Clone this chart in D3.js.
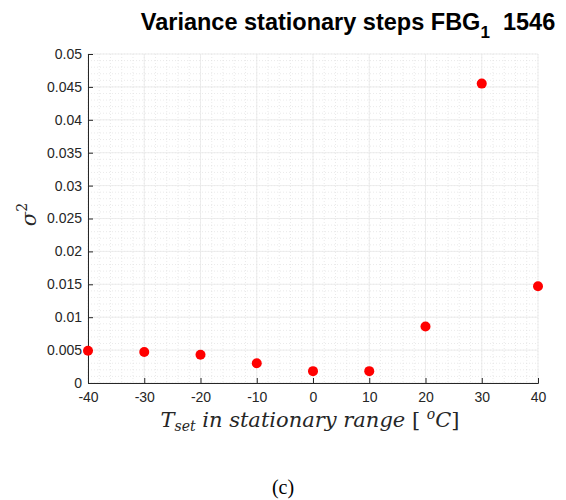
<!DOCTYPE html>
<html>
<head>
<meta charset="utf-8">
<script src="https://cdn.jsdelivr.net/npm/d3@7"></script>
<style>
  body { margin: 0; background: #fff; }
  svg { display: block; }
</style>
</head>
<body>
<div id="chart"></div>
<script>
const temps     = [-40, -30, -20, -10, 0, 10, 20, 30, 40]
const variances = [0.0049, 0.0047, 0.0043, 0.0030, 0.0018, 0.0018, 0.0086, 0.0455, 0.0147]
const xTicks    = [-40, -30, -20, -10, 0, 10, 20, 30, 40]
const yTicks    = [0, 0.005, 0.01, 0.015, 0.02, 0.025, 0.03, 0.035, 0.04, 0.045, 0.05]

const width = 566, height = 500
const MARGIN = { top: 54, right: 28, bottom: 117, left: 88 }
const W = width - MARGIN.left - MARGIN.right
const H = height - MARGIN.top - MARGIN.bottom

const svg = d3.select('#chart').append('svg').attr('width', width).attr('height', height)
const g = svg.append('g').attr('transform', `translate(${MARGIN.left},${MARGIN.top})`)

const x = d3.scaleLinear().domain([-40, 40]).range([0, W])
const y = d3.scaleLinear().domain([0, 0.05]).range([H, 0])

// ── grid ─────────────────────────────────────────────────────
const minorX = d3.range(-40, 40.01, 2)
const minorY = d3.range(0, 0.05001, 0.001)
g.append('g').selectAll('line').data(minorX).join('line')
  .attr('x1', d => x(d)).attr('x2', d => x(d)).attr('y1', 0).attr('y2', H)
  .attr('stroke', '#dcdcdc').attr('stroke-width', 0.6).attr('stroke-dasharray', '1 2')
g.append('g').selectAll('line').data(minorY).join('line')
  .attr('y1', d => y(d)).attr('y2', d => y(d)).attr('x1', 0).attr('x2', W)
  .attr('stroke', '#dcdcdc').attr('stroke-width', 0.6).attr('stroke-dasharray', '1 2')
g.append('g').selectAll('line').data(xTicks).join('line')
  .attr('x1', d => x(d)).attr('x2', d => x(d)).attr('y1', 0).attr('y2', H)
  .attr('stroke', '#e8e8e8').attr('stroke-width', 0.8)
g.append('g').selectAll('line').data(yTicks).join('line')
  .attr('y1', d => y(d)).attr('y2', d => y(d)).attr('x1', 0).attr('x2', W)
  .attr('stroke', '#e8e8e8').attr('stroke-width', 0.8)

// ── axes ─────────────────────────────────────────────────────
const gx = g.append('g').attr('transform', `translate(0,${H})`)
  .call(d3.axisBottom(x).tickValues(xTicks).tickSize(-5).tickPadding(9).tickFormat(d => String(d)))
const gy = g.append('g')
  .call(d3.axisLeft(y).tickValues(yTicks).tickSize(-5).tickPadding(6).tickFormat(d => String(+d.toFixed(3))))
;[gx, gy].forEach(a => {
  a.select('.domain').attr('stroke', '#262626')
  a.selectAll('.tick line').attr('stroke', '#262626')
  a.selectAll('text').attr('fill', '#262626')
    .style('font-family', 'Liberation Sans, Arial, sans-serif').style('font-size', '14px')
})

// ── points ───────────────────────────────────────────────────
g.append('g').selectAll('circle').data(temps).join('circle')
  .attr('cx', (d) => x(d)).attr('cy', (d, i) => y(variances[i]))
  .attr('r', 5).attr('fill', '#ff0000')

// ── labels ───────────────────────────────────────────────────
const title = svg.append('text').attr('x', 348).attr('y', 30).attr('text-anchor', 'middle')
  .style('font-family', 'Liberation Sans, Arial, sans-serif').style('font-size', '23.5px')
  .style('font-weight', 'bold').attr('fill', '#000')
title.append('tspan').text('Variance stationary steps FBG')
title.append('tspan').attr('dy', 8).style('font-size', '17px').text('1')
title.append('tspan').attr('dy', -8).text('\u00a0 1546')

const xl = svg.append('text').attr('x', 310).attr('y', 427).attr('text-anchor', 'middle')
  .style('font-family', 'DejaVu Serif, Liberation Serif, serif').style('font-style', 'italic')
  .style('font-size', '21px').attr('fill', '#262626')
xl.append('tspan').text('T')
xl.append('tspan').attr('dy', 4).style('font-size', '14px').text('set')
xl.append('tspan').attr('dy', -4).text(' in stationary range ')
xl.append('tspan').style('font-style', 'normal').text('[ ')
xl.append('tspan').attr('dy', -8).style('font-size', '14px').text('o')
xl.append('tspan').attr('dy', 8).text('C')
xl.append('tspan').style('font-style', 'normal').text(']')

const yl = svg.append('text').attr('transform', `translate(36,${MARGIN.top + H / 2 - 4}) rotate(-90)`)
  .attr('text-anchor', 'middle')
  .style('font-family', 'DejaVu Serif, Liberation Serif, serif').style('font-style', 'italic')
  .style('font-size', '21px').attr('fill', '#262626')
yl.append('tspan').text('\u03c3')
yl.append('tspan').attr('dy', -9).style('font-size', '14px').style('font-style', 'normal').text('2')

svg.append('text').attr('x', 283).attr('y', 494).attr('text-anchor', 'middle')
  .style('font-family', 'Liberation Serif, Times New Roman, serif').style('font-size', '20px')
  .attr('fill', '#000').text('(c)')
</script>
</body>
</html>
